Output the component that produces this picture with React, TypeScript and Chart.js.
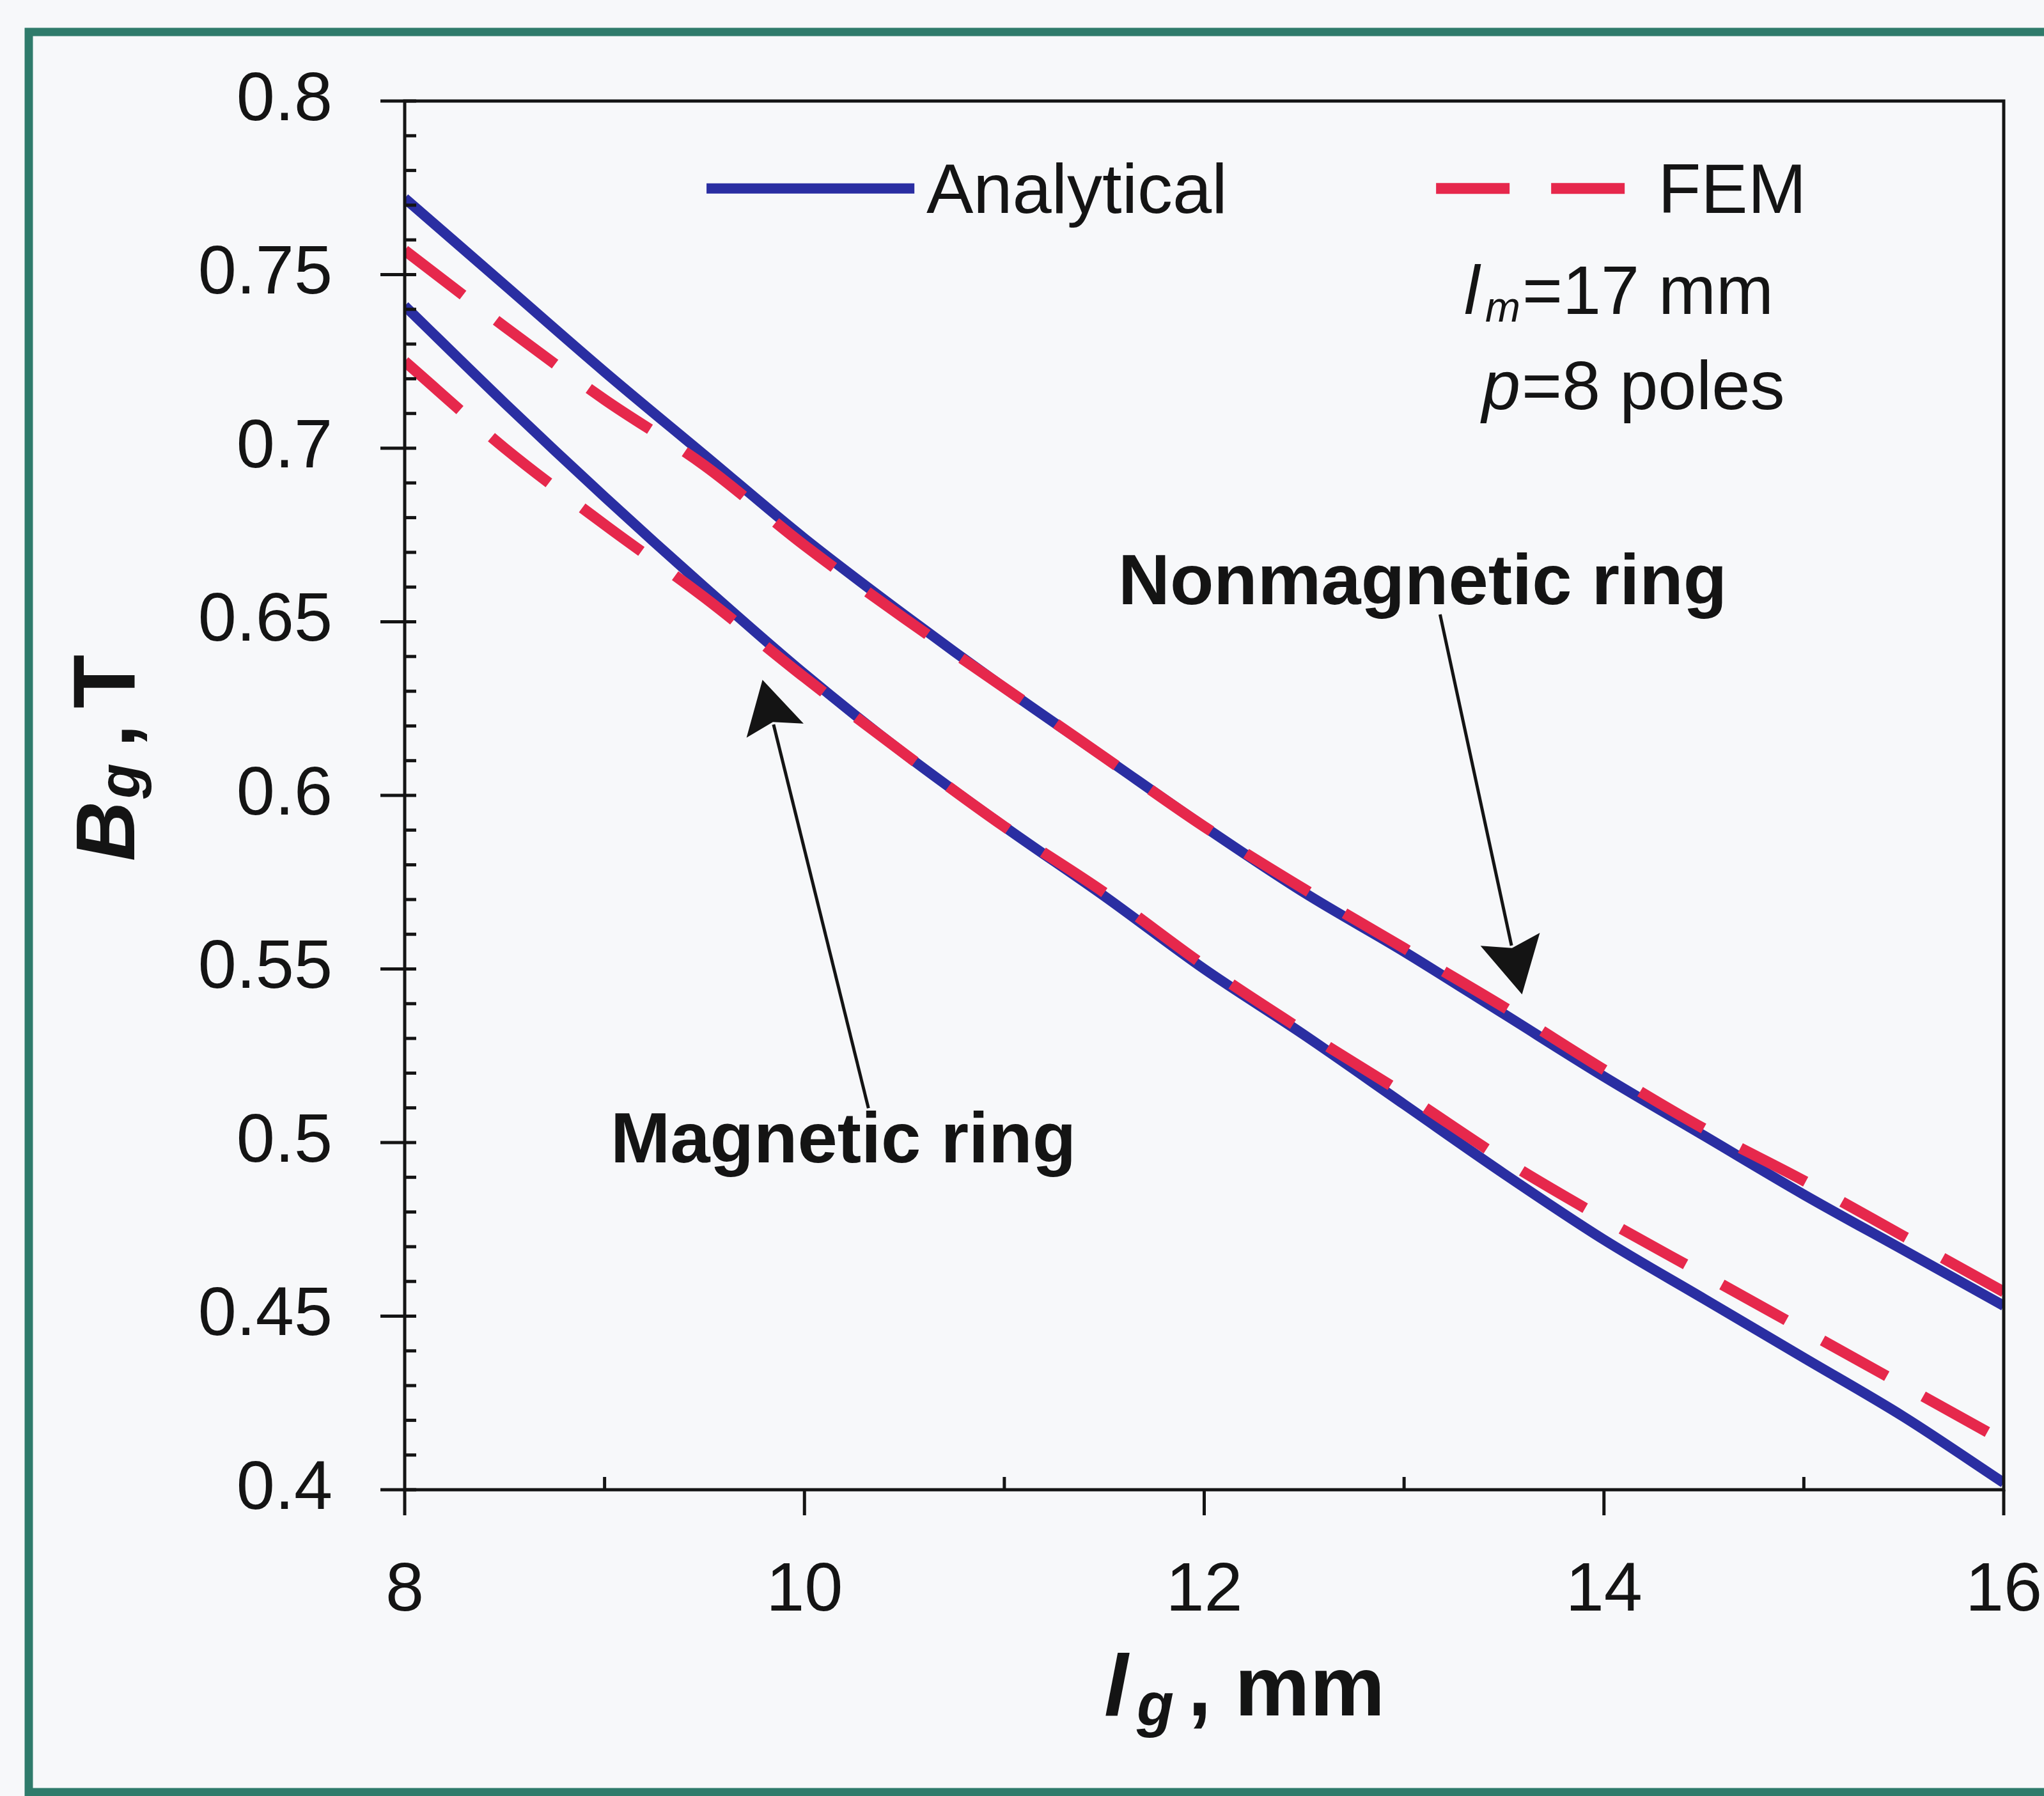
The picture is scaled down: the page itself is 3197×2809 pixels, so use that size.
import React, { useEffect, useRef } from 'react';
import { Chart, registerables } from 'chart.js';

Chart.register(...registerables);

// ---- data ----
const GAP_LENGTH_MM = [8, 8.5, 9, 9.5, 10, 10.5, 11, 11.5, 12, 12.5, 13, 13.5, 14, 14.5, 15, 15.5, 16];
const ANALYTICAL_NONMAGNETIC = [0.772, 0.747, 0.722, 0.698, 0.674, 0.652, 0.631, 0.611, 0.591, 0.572, 0.555, 0.537, 0.519, 0.502, 0.485, 0.469, 0.453];
const FEM_NONMAGNETIC = [0.757, 0.735, 0.714, 0.695, 0.672, 0.651, 0.631, 0.611, 0.591, 0.573, 0.556, 0.539, 0.521, 0.504, 0.489, 0.473, 0.457];
const ANALYTICAL_MAGNETIC = [0.741, 0.713, 0.686, 0.66, 0.635, 0.612, 0.591, 0.571, 0.55, 0.531, 0.511, 0.491, 0.472, 0.455, 0.438, 0.421, 0.402];
const FEM_MAGNETIC = [0.725, 0.7, 0.678, 0.657, 0.634, 0.612, 0.591, 0.572, 0.551, 0.532, 0.514, 0.495, 0.478, 0.462, 0.446, 0.43, 0.414];

const X_TICKS = [8, 10, 12, 14, 16];
const X_TICK_LABELS = ['8', '10', '12', '14', '16'];
const X_MINOR_TICKS = [9, 11, 13, 15];
const Y_TICKS = [0.4, 0.45, 0.5, 0.55, 0.6, 0.65, 0.7, 0.75, 0.8];
const Y_TICK_LABELS = ['0.4', '0.45', '0.5', '0.55', '0.6', '0.65', '0.7', '0.75', '0.8'];

const SERIES_LABELS = ['Analytical', 'FEM'];
const RING_LABELS = ['Nonmagnetic ring', 'Magnetic ring'];

// ---- styles ----
const BLUE = '#2a2ea2';
const RED = '#e6284c';
const INK = '#141414';
const TEAL = '#2f7b6b';
const BG = '#f7f8fa';
const FONT = "'Liberation Sans', Arial, Helvetica, sans-serif";
const DASH = [115, 65];
const BLUE_W = 16;
const RED_W = 17;

// annotation placement in data units
const NONMAG_TEXT_AT = { x: 11.57, y: 0.655 };
const MAG_TEXT_AT = { x: 9.03, y: 0.4943 };
const NONMAG_ARROW = { from: { x: 13.18, y: 0.6521 }, to: { x: 13.59, y: 0.5427 } };
const MAG_ARROW = { from: { x: 10.32, y: 0.5099 }, to: { x: 9.79, y: 0.6333 } };
const LEGEND_AT = {
  solid: { x1: 9.51, x2: 10.55, y: 0.7748 },
  solidText: { x: 10.61, y: 0.7678 },
  dashed: { x1: 13.16, x2: 14.12, y: 0.7748 },
  dashedText: { x: 14.27, y: 0.7678 },
};
const PARAM_AT = { lm: { x: 13.3, y: 0.7387 }, p: { x: 13.39, y: 0.7112 } };

function drawArrow(ctx: CanvasRenderingContext2D, x1: number, y1: number, x2: number, y2: number, headLen: number, headW: number) {
  const ang = Math.atan2(y2 - y1, x2 - x1);
  const bx = x2 - headLen * Math.cos(ang);
  const by = y2 - headLen * Math.sin(ang);
  ctx.beginPath();
  ctx.moveTo(x1, y1);
  ctx.lineTo(bx + 10 * Math.cos(ang), by + 10 * Math.sin(ang));
  ctx.stroke();
  const nx = Math.sin(ang);
  const ny = -Math.cos(ang);
  ctx.beginPath();
  ctx.moveTo(x2, y2);
  ctx.lineTo(bx + (headW / 2) * nx, by + (headW / 2) * ny);
  ctx.lineTo(bx + 14 * Math.cos(ang), by + 14 * Math.sin(ang));
  ctx.lineTo(bx - (headW / 2) * nx, by - (headW / 2) * ny);
  ctx.closePath();
  ctx.fill();
}

const decorPlugin = {
  id: 'decor',
  beforeDraw(chart: any) {
    const ctx: CanvasRenderingContext2D = chart.ctx;
    ctx.save();
    ctx.fillStyle = BG;
    ctx.fillRect(0, 0, chart.width, chart.height);
    ctx.restore();
  },
  afterDraw(chart: any) {
    const ctx: CanvasRenderingContext2D = chart.ctx;
    const xs = chart.scales.x;
    const ys = chart.scales.y;
    const a = chart.chartArea;
    const px = (v: number) => xs.getPixelForValue(v);
    const py = (v: number) => ys.getPixelForValue(v);
    ctx.save();

    // outer teal frame
    ctx.strokeStyle = TEAL;
    ctx.lineWidth = 13;
    ctx.strokeRect(45, 50, 3220, 2753);

    // plot frame & ticks
    ctx.strokeStyle = INK;
    ctx.fillStyle = INK;
    ctx.lineWidth = 5;
    ctx.lineCap = 'butt';
    ctx.strokeRect(a.left, a.top, a.right - a.left, a.bottom - a.top);
    const seg = (x1: number, y1: number, x2: number, y2: number) => {
      ctx.beginPath();
      ctx.moveTo(x1, y1);
      ctx.lineTo(x2, y2);
      ctx.stroke();
    };
    Y_TICKS.forEach((v) => {
      const y = py(v);
      seg(a.left - 38, y, a.left + 18, y);
    });
    for (let k = 41; k < 80; k++) {
      if (k % 5 === 0) continue;
      const y = py(k / 100);
      seg(a.left, y, a.left + 18, y);
    }
    X_TICKS.forEach((v) => {
      const x = px(v);
      seg(x, a.bottom, x, a.bottom + 40);
    });
    X_MINOR_TICKS.forEach((v) => {
      const x = px(v);
      seg(x, a.bottom, x, a.bottom - 20);
    });

    // legend
    ctx.lineWidth = BLUE_W;
    ctx.strokeStyle = BLUE;
    seg(px(LEGEND_AT.solid.x1), py(LEGEND_AT.solid.y), px(LEGEND_AT.solid.x2), py(LEGEND_AT.solid.y));
    ctx.strokeStyle = RED;
    ctx.lineWidth = RED_W;
    ctx.setLineDash(DASH);
    seg(px(LEGEND_AT.dashed.x1), py(LEGEND_AT.dashed.y), px(LEGEND_AT.dashed.x2), py(LEGEND_AT.dashed.y));
    ctx.setLineDash([]);
    ctx.fillStyle = INK;
    ctx.textBaseline = 'alphabetic';
    ctx.textAlign = 'left';
    ctx.font = `110px ${FONT}`;
    ctx.fillText(SERIES_LABELS[0], px(LEGEND_AT.solidText.x), py(LEGEND_AT.solidText.y));
    ctx.fillText(SERIES_LABELS[1], px(LEGEND_AT.dashedText.x), py(LEGEND_AT.dashedText.y));

    // parameters
    let x0 = px(PARAM_AT.lm.x);
    let y0 = py(PARAM_AT.lm.y);
    ctx.font = `italic 108px ${FONT}`;
    ctx.fillText('l', x0, y0);
    ctx.font = `italic 66px ${FONT}`;
    ctx.fillText('m', x0 + 33, y0 + 12);
    ctx.font = `108px ${FONT}`;
    ctx.fillText('=17 mm', x0 + 91, y0);
    x0 = px(PARAM_AT.p.x);
    y0 = py(PARAM_AT.p.y);
    ctx.font = `italic 108px ${FONT}`;
    ctx.fillText('p', x0, y0);
    ctx.font = `108px ${FONT}`;
    ctx.fillText('=8 poles', x0 + 62, y0);

    // ring labels
    ctx.font = `bold 112px ${FONT}`;
    ctx.fillText(RING_LABELS[0], px(NONMAG_TEXT_AT.x), py(NONMAG_TEXT_AT.y));
    ctx.fillText(RING_LABELS[1], px(MAG_TEXT_AT.x), py(MAG_TEXT_AT.y));

    // arrows
    ctx.lineWidth = 5;
    ctx.strokeStyle = INK;
    drawArrow(ctx, px(NONMAG_ARROW.from.x), py(NONMAG_ARROW.from.y), px(NONMAG_ARROW.to.x), py(NONMAG_ARROW.to.y), 88, 95);
    drawArrow(ctx, px(MAG_ARROW.from.x), py(MAG_ARROW.from.y), px(MAG_ARROW.to.x), py(MAG_ARROW.to.y), 82, 92);

    // x axis title: l_g, mm
    ctx.font = `italic bold 135px ${FONT}`;
    ctx.fillText('l', 1727, 2683);
    ctx.font = `italic bold 95px ${FONT}`;
    ctx.fillText('g', 1778, 2698);
    ctx.font = `bold 132px ${FONT}`;
    ctx.fillText(', mm', 1858, 2683);

    // y axis title: B_g, T (rotated)
    ctx.translate(210, 1347);
    ctx.rotate(-Math.PI / 2);
    ctx.font = `italic bold 130px ${FONT}`;
    ctx.fillText('B', 0, 0);
    ctx.font = `italic bold 90px ${FONT}`;
    ctx.fillText('g', 98, 8);
    ctx.font = `bold 130px ${FONT}`;
    ctx.fillText(',', 178, 0);
    ctx.font = `bold 138px ${FONT}`;
    ctx.fillText('T', 239, 0);

    ctx.restore();
  },
};

export default function App() {
  const ref = useRef<HTMLCanvasElement>(null);

  useEffect(() => {
    document.body.style.margin = '0';
    const canvas = ref.current;
    if (!canvas) return;
    const toPts = (ys: number[]) => GAP_LENGTH_MM.map((x, i) => ({ x, y: ys[i] }));
    const solid = (label: string, ys: number[]) => ({
      label,
      data: toPts(ys),
      borderColor: BLUE,
      borderWidth: BLUE_W,
      pointRadius: 0,
      cubicInterpolationMode: 'monotone',
      borderJoinStyle: 'round',
      fill: false,
      order: 2,
    });
    const dashed = (label: string, ys: number[]) => ({
      label,
      data: toPts(ys),
      borderColor: RED,
      borderWidth: RED_W,
      borderDash: DASH,
      pointRadius: 0,
      cubicInterpolationMode: 'monotone',
      fill: false,
      order: 1,
    });
    const chart = new Chart(canvas, {
      type: 'line',
      data: {
        datasets: [
          solid('Analytical (nonmagnetic ring)', ANALYTICAL_NONMAGNETIC),
          solid('Analytical (magnetic ring)', ANALYTICAL_MAGNETIC),
          dashed('FEM (nonmagnetic ring)', FEM_NONMAGNETIC),
          dashed('FEM (magnetic ring)', FEM_MAGNETIC),
        ],
      },
      options: {
        animation: false,
        responsive: false,
        devicePixelRatio: 1,
        layout: { padding: { top: 158, right: 63, left: 0, bottom: 0 } },
        plugins: { legend: { display: false }, tooltip: { enabled: false } },
        scales: {
          x: {
            type: 'linear',
            min: 8,
            max: 16,
            grid: { display: false, drawTicks: false },
            border: { display: false },
            afterBuildTicks: (s: any) => {
              s.ticks = X_TICKS.map((v) => ({ value: v }));
            },
            afterFit: (s: any) => {
              s.height = 479;
              s.paddingLeft = 0;
              s.paddingRight = 0;
            },
            ticks: {
              autoSkip: false,
              maxRotation: 0,
              padding: 94,
              color: INK,
              font: { family: FONT, size: 108 },
              callback: (_v: any, i: number) => X_TICK_LABELS[i],
            },
          },
          y: {
            type: 'linear',
            min: 0.4,
            max: 0.8,
            grid: { display: false, drawTicks: false },
            border: { display: false },
            afterBuildTicks: (s: any) => {
              s.ticks = Y_TICKS.map((v) => ({ value: v }));
            },
            afterFit: (s: any) => {
              s.width = 633;
              s.paddingTop = 0;
              s.paddingBottom = 0;
            },
            ticks: {
              autoSkip: false,
              padding: 113,
              color: INK,
              font: { family: FONT, size: 108 },
              callback: (_v: any, i: number) => Y_TICK_LABELS[i],
            },
          },
        },
      },
      plugins: [decorPlugin],
    } as any);
    return () => chart.destroy();
  }, []);

  return (
    <div style={{ width: 3197, height: 2809, background: BG }}>
      <canvas ref={ref} width={3197} height={2809} style={{ display: 'block', width: 3197, height: 2809 }} />
    </div>
  );
}
